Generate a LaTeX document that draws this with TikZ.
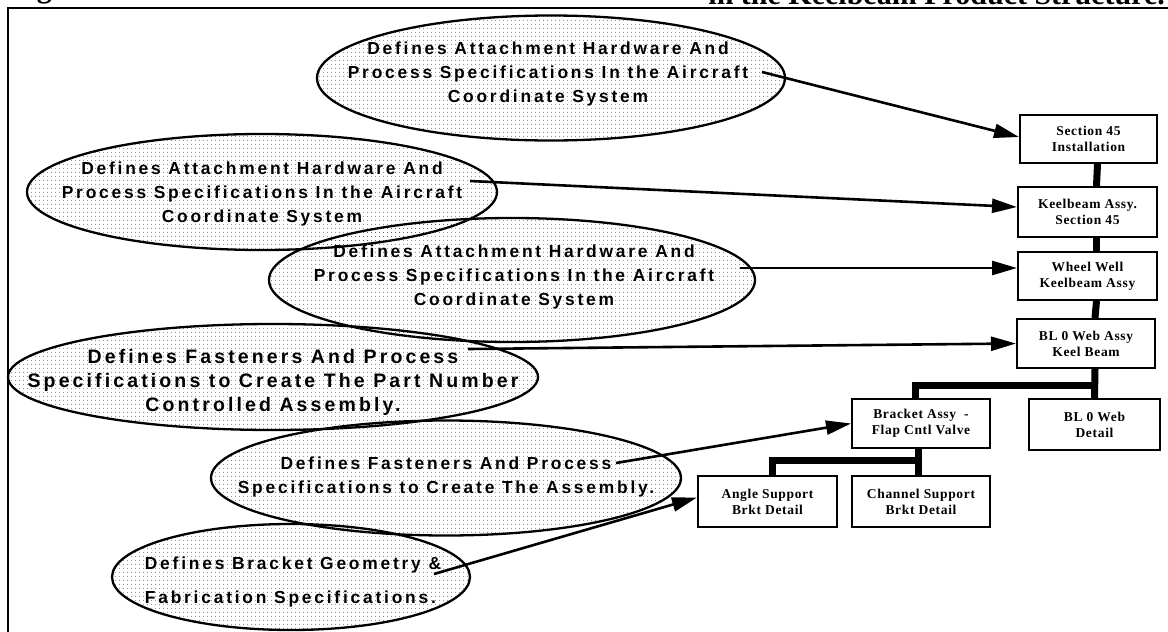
\documentclass[tikz,border=0pt]{standalone}
\usepackage{fontspec}
\setmainfont{Liberation Serif}
\newfontfamily\bubblefont[LetterSpace=16]{Liberation Sans}
\newfontfamily\boxfont[LetterSpace=5]{Liberation Serif}
\usetikzlibrary{shapes.geometric,arrows.meta,patterns.meta}

\tikzset{
  bubble/.style={ellipse, draw=black, line width=2.3pt, inner sep=0pt,
    pattern={Dots[distance=4pt, radius=0.55pt]}, pattern color=black!75},
  bubtext/.style={font=\bubblefont\bfseries\fontsize{17.4}{24}\selectfont,
    align=center, inner sep=0pt},
  bigtext/.style={bubtext, font=\bubblefont\bfseries\fontsize{19.5}{24}\selectfont},
  partbox/.style={draw=black, line width=2pt, fill=white, align=center,
    inner sep=0pt, font=\boxfont\bfseries\fontsize{13.5}{16}\selectfont},
  tree/.style={line width=7pt},
  callout/.style={line width=2.6pt, -{Triangle[length=25pt,width=14pt]}},
  frameline/.style={line width=2.2pt},
  captext/.style={inner sep=0pt, font=\bfseries\fontsize{30}{30}\selectfont},
}

\begin{document}
\begin{tikzpicture}[x=1pt,y=-1pt]
\useasboundingbox (0,0) rectangle (1168,632);
\clip (0,0) rectangle (1168,632);

% caption running along the top edge
\node[captext, anchor=base west] (capl) at (10,-3) {Figure};
\node[captext, anchor=base east] (capr) at (1165,4) {in the Keelbeam Product Structure.};

% outer frame
\draw[frameline] (8,632) -- (8,8) -- (1168,8);

% annotation bubbles
\node[bubble, minimum width=468pt, minimum height=125pt] (e1) at (551,78) {};
\node[bubtext] (t1) at (548,74) {Defines Attachment Hardware And\\Process Specifications In the Aircraft\\Coordinate System};

\node[bubble, minimum width=470pt, minimum height=116pt] (e2) at (262,192) {};
\node[bubtext] (t2) at (262,194) {Defines Attachment Hardware And\\Process Specifications In the Aircraft\\Coordinate System};

\node[bubble, minimum width=486pt, minimum height=124pt] (e3) at (512,280) {};
\node[bubtext] (t3) at (514,277) {Defines Attachment Hardware And\\Process Specifications In the Aircraft\\Coordinate System};

\node[bubble, minimum width=530pt, minimum height=106pt] (e4) at (273,377) {};
\node[bigtext] (t4) at (273,382) {Defines Fasteners And Process\\Specifications to Create The Part Number\\Controlled Assembly.};

\node[bubble, minimum width=470pt, minimum height=115pt] (e5) at (446,478) {};
\node[bubtext] (t5) at (446,477) {Defines Fasteners And Process\\Specifications to Create The Assembly.};

\node[bubble, minimum width=358pt, minimum height=106pt] (e6) at (291,577) {};
\node[bubtext, align=left, font=\bubblefont\bfseries\fontsize{17.4}{34}\selectfont] (t6) at (293,582) {Defines Bracket Geometry \&\\Fabrication Specifications.};

% product structure boxes
\node[partbox, minimum width=137pt, minimum height=48pt] (b1) at (1088.5,139) {Section 45\\Installation};
\node[partbox, minimum width=139pt, minimum height=50pt] (b2) at (1087.5,212) {Keelbeam Assy.\\Section 45};
\node[partbox, minimum width=139pt, minimum height=48pt] (b3) at (1087.5,276) {Wheel Well\\Keelbeam Assy};
\node[partbox, minimum width=138pt, minimum height=49pt] (b4) at (1086,343.5) {BL 0 Web Assy\\Keel Beam};
\node[partbox, minimum width=138pt, minimum height=49pt] (b5) at (921,423.5) {Bracket Assy\ \ -\\Flap Cntl Valve};
\node[partbox, minimum width=131pt, minimum height=51pt] (b6) at (1094.5,424.5) {BL 0 Web\\Detail};
\node[partbox, minimum width=139pt, minimum height=51pt] (b7) at (767.5,501.5) {Angle Support\\Brkt Detail};
\node[partbox, minimum width=138pt, minimum height=51pt] (b8) at (921,501.5) {Channel Support\\Brkt Detail};

% structure links
\draw[tree] ([xshift=9pt]b1.south) -- ([xshift=9pt]b2.north);
\draw[tree] ([xshift=9pt]b2.south) -- ([xshift=9pt]b3.north);
\draw[tree] ([xshift=9pt]b3.south) -- ([xshift=9pt]b4.north);
\draw[tree] ([xshift=9pt]b4.south) -- (b6.north);
\coordinate (j1) at (1095,385);
\draw[tree] (j1) -| ([xshift=-6pt]b5.north);
\draw[tree] ([xshift=-3pt]b5.south) -- ([xshift=-3pt]b8.north);
\coordinate (j2) at (918,460);
\draw[tree] (j2) -| ([xshift=5pt]b7.north);

% callout arrows
\coordinate (s1) at (762,72);
\coordinate (s2) at (470,181);
\coordinate (s3) at (740,268);
\coordinate (s4) at (468,349);
\coordinate (s5) at (616,463);
\coordinate (s6) at (434,574);
\draw[callout] (s1) -- ([yshift=2pt]b1.west);
\draw[callout] (s2) -- ([yshift=5pt]b2.west);
\draw[callout] (s3) -- ([yshift=8pt]b3.west);
\draw[callout] (s4) -- (b4.west);
\draw[callout] (s5) -- (b5.west);
\draw[callout] (s6) -- ([yshift=4pt]b7.west);
\end{tikzpicture}
\end{document}
